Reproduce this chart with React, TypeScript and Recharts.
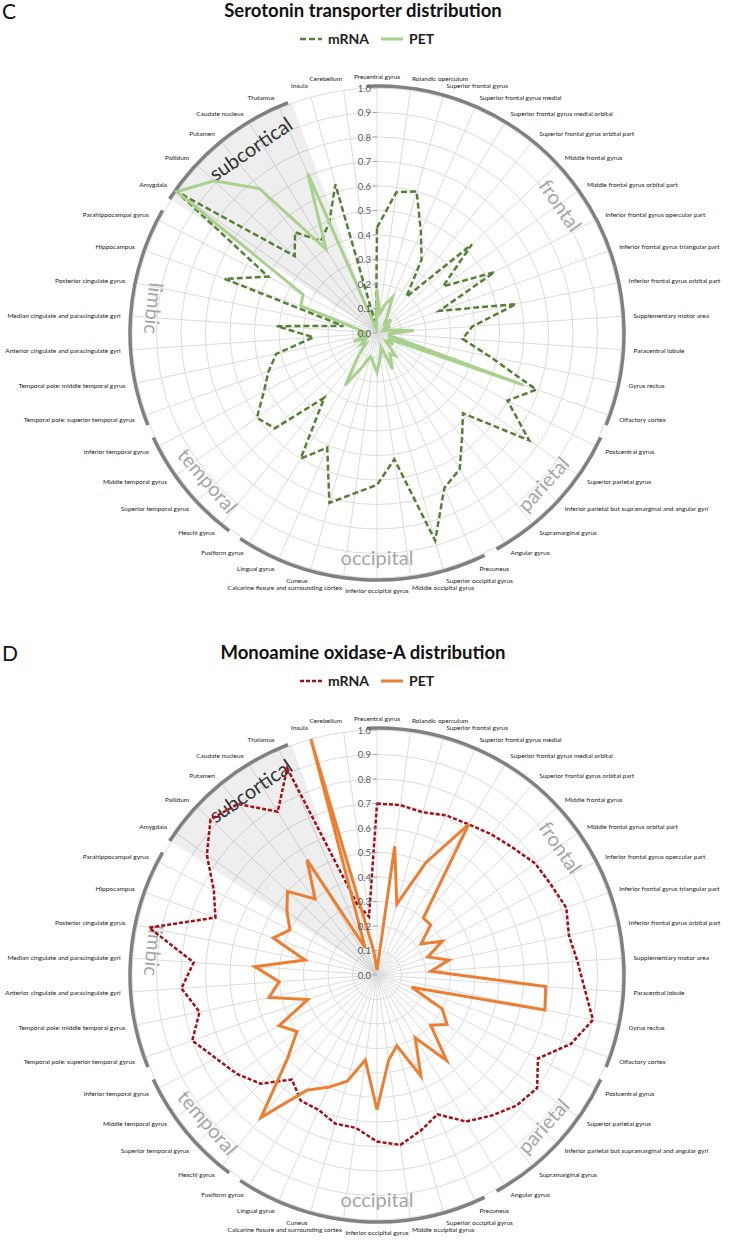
import { RadarChart, Radar, PolarGrid, PolarAngleAxis, PolarRadiusAxis } from 'recharts';

const regions = [
  'Precentral gyrus', 'Rolandic operculum', 'Superior frontal gyrus', 'Superior frontal gyrus  medial',
  'Superior frontal gyrus  medial orbital', 'Superior frontal gyrus  orbital part', 'Middle frontal gyrus',
  'Middle frontal gyrus  orbital part', 'Inferior frontal gyrus  opercular part', 'Inferior frontal gyrus  triangular part',
  'Inferior frontal gyrus  orbital part', 'Supplementary motor area', 'Paracentral lobule', 'Gyrus rectus',
  'Olfactory cortex', 'Postcentral gyrus', 'Superior parietal gyrus',
  'Inferior parietal  but supramarginal and angular gyri', 'Supramarginal gyrus', 'Angular gyrus', 'Precuneus',
  'Superior occipital gyrus', 'Middle occipital gyrus', 'Inferior occipital gyrus',
  'Calcarine fissure and surrounding cortex', 'Cuneus', 'Lingual gyrus', 'Fusiform gyrus', 'Heschl gyrus',
  'Superior temporal gyrus', 'Middle temporal gyrus', 'Inferior temporal gyrus',
  'Temporal pole: superior temporal gyrus', 'Temporal pole: middle temporal gyrus',
  'Anterior cingulate and paracingulate gyri', 'Median cingulate and paracingulate gyri',
  'Posterior cingulate gyrus', 'Hippocampus', 'Parahippocampal gyrus', 'Amygdala', 'Pallidum', 'Putamen',
  'Caudate nucleus', 'Thalamus', 'Insula', 'Cerebellum',
];

// C: serotonin transporter
const sertMrna = [
  0.43, 0.58, 0.6, 0.45, 0.35, 0.19, 0.53, 0.33, 0.54, 0.27, 0.58, 0.39, 0.35, 0.47, 0.69, 0.6,
  0.76, 0.48, 0.55, 0.65, 0.69, 0.88, 0.52, 0.62, 0.66, 0.72, 0.51, 0.6, 0.34, 0.57, 0.6, 0.52,
  0.47, 0.42, 0.26, 0.41, 0.14, 0.66, 0.5, 1.0, 0.46, 0.53, 0.44, 0.49, 0.63, 0.03,
];
const sertPet = [
  0.18, 0.08, 0.12, 0.16, 0.08, 0.05, 0.08, 0.04, 0.06, 0.03, 0.06, 0.15, 0.05, 0.05, 0.635, 0.05,
  0.08, 0.05, 0.12, 0.1, 0.16, 0.06, 0.1, 0.16, 0.12, 0.1, 0.15, 0.25, 0.12, 0.06, 0.08, 0.05,
  0.1, 0.04, 0.08, 0.05, 0.08, 0.33, 0.34, 1.0, 0.91, 0.76, 0.4, 0.71, 0.03, 0.02,
];

// D: monoamine oxidase-A
const maoaMrna = [
  0.7, 0.7, 0.69, 0.71, 0.72, 0.74, 0.76, 0.79, 0.8, 0.82, 0.8, 0.82, 0.85, 0.9, 0.84, 0.74,
  0.8, 0.78, 0.74, 0.7, 0.62, 0.66, 0.7, 0.68, 0.63, 0.63, 0.6, 0.6, 0.55, 0.65, 0.7, 0.74,
  0.8, 0.74, 0.8, 0.75, 0.95, 0.7, 0.75, 0.85, 0.93, 0.9, 0.78, 0.92, 0.3, 0.24,
];
const maoaPet = [
  0.02, 0.53, 0.3, 0.5, 0.72, 0.3, 0.3, 0.22, 0.3, 0.22, 0.3, 0.22, 0.69, 0.7, 0.15, 0.3,
  0.35, 0.3, 0.45, 0.3, 0.45, 0.3, 0.35, 0.55, 0.35, 0.45, 0.5, 0.55, 0.75, 0.5, 0.4, 0.45,
  0.3, 0.45, 0.4, 0.5, 0.3, 0.45, 0.4, 0.45, 0.5, 0.4, 0.55, 0.12, 1.0, 0.1,
];

const radiusTicks = [0, 0.1, 0.2, 0.3, 0.4, 0.5, 0.6, 0.7, 0.8, 0.9, 1.0];

const lobes = [
  { name: 'frontal', first: 0, last: 14, labelAt: 7.05, dark: false },
  { name: 'parietal', first: 15, last: 19, labelAt: 16.9, dark: false },
  { name: 'occipital', first: 20, last: 27, labelAt: 23, dark: false },
  { name: 'temporal', first: 28, last: 31, labelAt: 29.25, dark: false },
  { name: 'limbic', first: 32, last: 38, labelAt: 35.3, dark: false },
  { name: 'subcortical', first: 39, last: 43, labelAt: 41.6, dark: true },
];

const W = 730;
const H = 642;
const CX = 377;
const CY = 333;
const R = 245;
const N = regions.length;
const FONT = 'Lato, "Open Sans", sans-serif';

// clockwise degrees from 12 o'clock for a (fractional) category index
const theta = (i: number) => (i * 360) / N;
const pt = (r: number, i: number) => {
  const a = (theta(i) * Math.PI) / 180;
  return [CX + r * Math.sin(a), CY - r * Math.cos(a)];
};

function Decor() {
  const shade = lobes[lobes.length - 1];
  const s0 = pt(R, shade.first - 0.3);
  const s1 = pt(R, shade.last + 0.4);
  return (
    <g>
      <path
        d={`M${CX},${CY} L${s0[0]},${s0[1]} A${R},${R} 0 0 1 ${s1[0]},${s1[1]} Z`}
        fill="#000"
        fillOpacity={0.065}
      />
      {lobes.map((l) => {
        const ar = R + 2;
        const a0 = pt(ar, l.first - 0.3);
        const a1 = pt(ar, l.last + 0.3);
        const [tx, ty] = pt(224, l.labelAt);
        const t = theta(l.labelAt);
        const rot = t > 90 && t < 290 ? t - 180 : t >= 290 ? t - 360 : t;
        return (
          <g key={l.name}>
            <path
              d={`M${a0[0]},${a0[1]} A${ar},${ar} 0 0 1 ${a1[0]},${a1[1]}`}
              fill="none"
              stroke="#808080"
              strokeWidth={3.5}
            />
            <text
              x={tx}
              y={ty}
              textAnchor="middle"
              dominantBaseline="central"
              transform={`rotate(${rot} ${tx} ${ty})`}
              fontSize={20}
              fontFamily={FONT}
              fill={l.dark ? '#333' : '#a6a6a6'}
            >
              {l.name}
            </text>
          </g>
        );
      })}
    </g>
  );
}

function AngleTick(props: any) {
  const i = props.index;
  const [x, y] = pt(257, i);
  const s = Math.sin((theta(i) * Math.PI) / 180);
  const anchor = s > 0.02 ? 'start' : s < -0.02 ? 'end' : 'middle';
  return (
    <text x={x} y={y} textAnchor={anchor} dominantBaseline="central" fontSize={6.5} fontFamily={FONT} fill="#222">
      {regions[i]}
    </text>
  );
}

function RadiusTick(props: any) {
  const { x, y, payload } = props;
  return (
    <g>
      <line x1={x - 4} y1={y} x2={x} y2={y} stroke="#a0a0a0" />
      <text x={x - 6} y={y} textAnchor="end" dominantBaseline="central" fontSize={9.5} fontFamily={FONT} fill="#595959">
        {Number(payload.value).toFixed(1)}
      </text>
    </g>
  );
}

type PanelProps = {
  letter: string;
  title: string;
  mrna: number[];
  pet: number[];
  mrnaColor: string;
  petColor: string;
  dash: string;
  height: number;
};

function Panel({ letter, title, mrna, pet, mrnaColor, petColor, dash, height }: PanelProps) {
  const data = regions.map((name, i) => ({ name, mrna: mrna[i], pet: pet[i] }));
  return (
    <div style={{ position: 'relative', width: W, height }}>
      <div style={{ position: 'absolute', left: 2, top: -2, fontSize: 21, fontFamily: FONT, color: '#111' }}>{letter}</div>
      <div
        style={{
          position: 'absolute',
          left: 0,
          width: W - 4,
          top: -1,
          textAlign: 'center',
          fontSize: 18.5,
          fontWeight: 700,
          fontFamily: FONT,
          color: '#111',
        }}
      >
        {title}
      </div>
      <div
        style={{
          position: 'absolute',
          left: 300,
          top: 30,
          display: 'flex',
          alignItems: 'center',
          fontSize: 14,
          fontWeight: 700,
          fontFamily: FONT,
          color: '#222',
        }}
      >
        <svg width={22} height={6} style={{ marginRight: 6 }}>
          <line x1={0} y1={3} x2={22} y2={3} stroke={mrnaColor} strokeWidth={2.5} strokeDasharray={dash} />
        </svg>
        <span style={{ marginRight: 12 }}>mRNA</span>
        <svg width={22} height={6} style={{ marginRight: 6 }}>
          <line x1={0} y1={3} x2={22} y2={3} stroke={petColor} strokeWidth={3} />
        </svg>
        <span>PET</span>
      </div>
      <div style={{ position: 'absolute', left: 0, top: 0 }}>
        <RadarChart width={W} height={height} data={data} cx={CX} cy={CY} outerRadius={R} margin={{ top: 0, right: 0, bottom: 0, left: 0 }}>
          <Decor />
          <PolarGrid gridType="circle" stroke="#dcdcdc" />
          <PolarRadiusAxis
            angle={90}
            domain={[0, 1]}
            ticks={radiusTicks}
            tick={<RadiusTick />}
            axisLine={false}
            tickLine={false}
          />
          <PolarAngleAxis dataKey="name" tick={<AngleTick />} tickLine={false} axisLine={false} />
          <Radar
            dataKey="mrna"
            stroke={mrnaColor}
            strokeWidth={2.5}
            strokeDasharray={dash}
            fill="none"
            fillOpacity={0}
            dot={false}
            isAnimationActive={false}
          />
          <Radar
            dataKey="pet"
            stroke={petColor}
            strokeWidth={3}
            fill="none"
            fillOpacity={0}
            dot={false}
            isAnimationActive={false}
          />
        </RadarChart>
      </div>
    </div>
  );
}

export default function App() {
  return (
    <div style={{ position: 'absolute', left: 0, top: 0, width: W, background: '#fff' }}>
      <Panel
        letter="C"
        title="Serotonin transporter distribution"
        mrna={sertMrna}
        pet={sertPet}
        mrnaColor="#548235"
        petColor="#a9d18e"
        dash="6 3"
        height={H}
      />
      <Panel
        letter="D"
        title="Monoamine oxidase-A distribution"
        mrna={maoaMrna}
        pet={maoaPet}
        mrnaColor="#a50f15"
        petColor="#ed7d31"
        dash="4 2"
        height={598}
      />
    </div>
  );
}
